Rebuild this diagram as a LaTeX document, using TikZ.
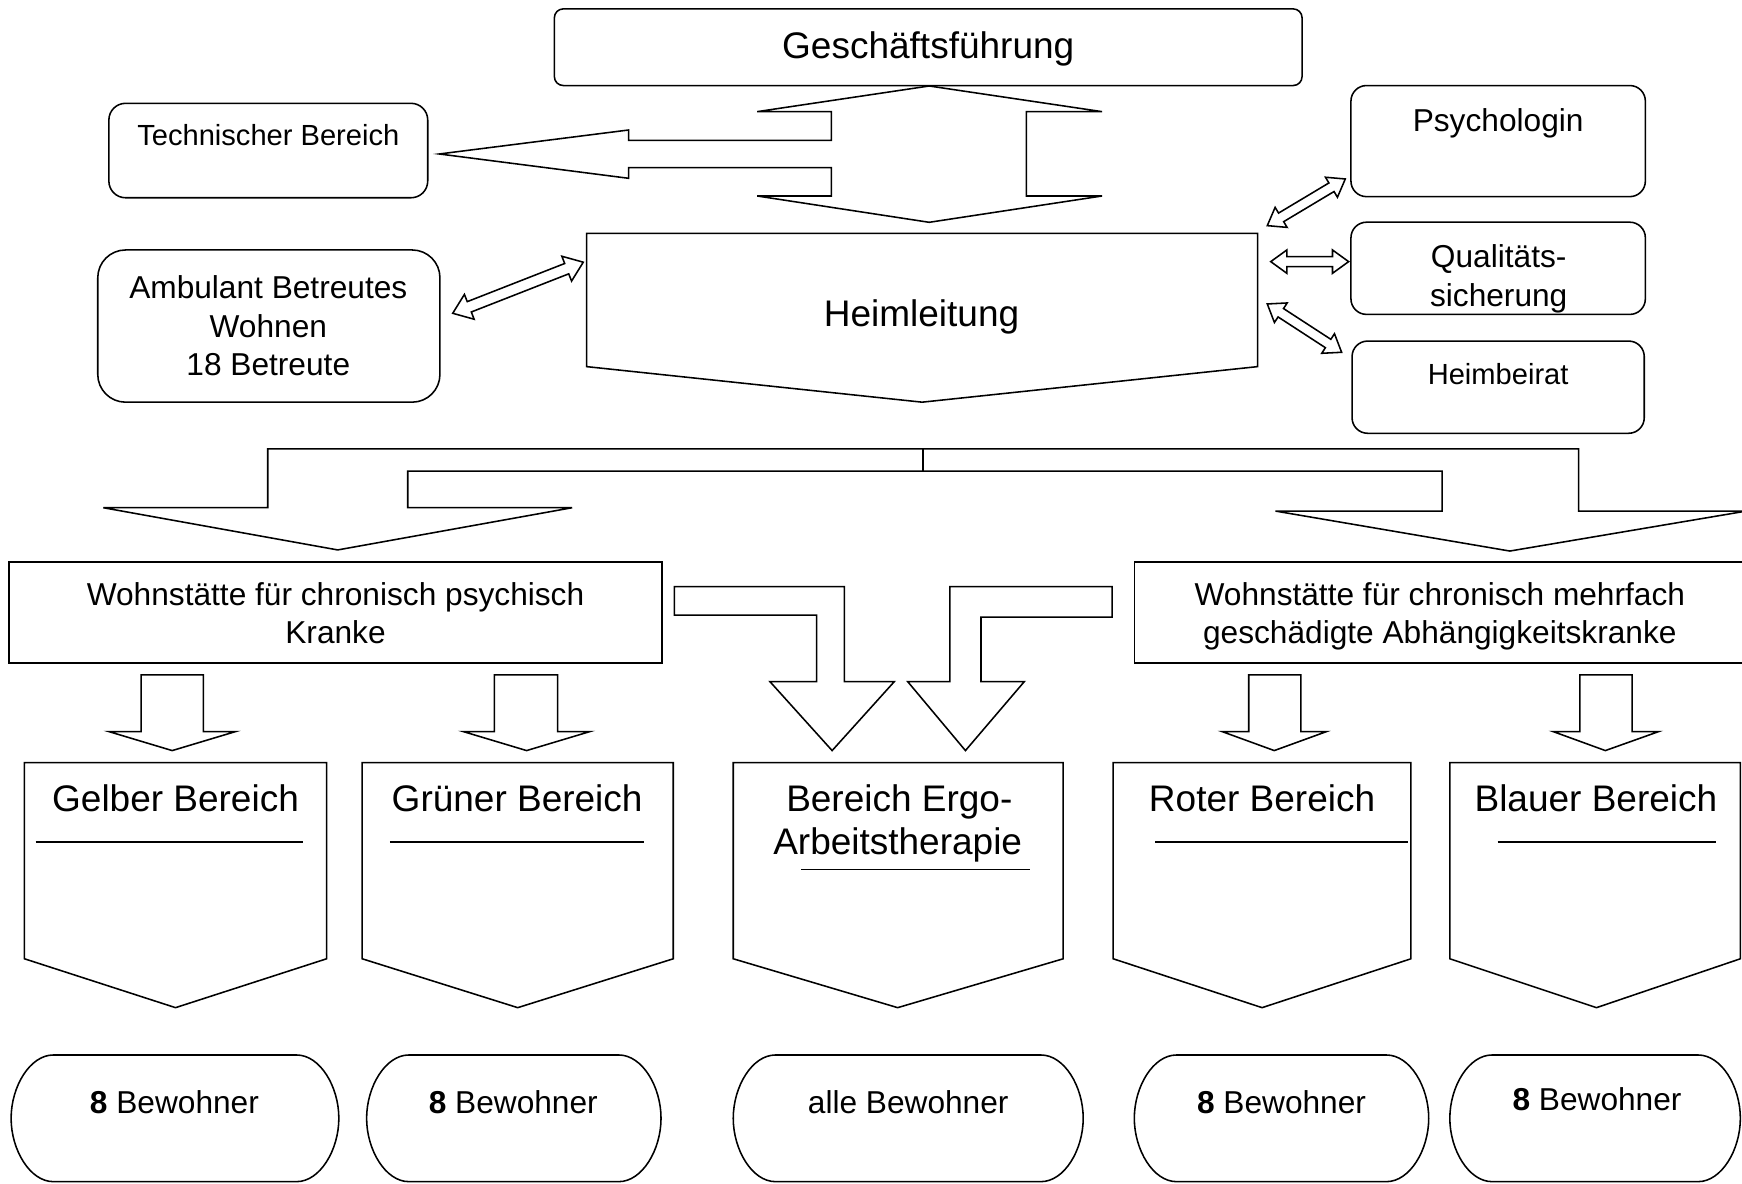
\documentclass[tikz,border=0pt]{standalone}
\usepackage{fontspec}
\setmainfont{Liberation Sans}
\usetikzlibrary{calc}
\tikzset{
  blk/.style={draw, line width=1.4pt, line join=miter, fill=white},
  uline/.style={draw, line width=1.4pt},
  txtL/.style={font=\fontsize{33.3}{40}\selectfont, anchor=base, inner sep=0pt},
  txtM/.style={font=\fontsize{28.5}{34.5}\selectfont, anchor=base, inner sep=0pt},
  txtS/.style={font=\fontsize{26.2}{31}\selectfont, anchor=base, inner sep=0pt},
}
% double block arrow: #1 start, #2 end, #3 shaft half width, #4 head half width, #5 head length
\newcommand\dblblockarrow[5]{%
  \draw[blk] (#1)
    -- ($(#1)!#5!(#2)!#4!90:(#2)$)
    -- ($(#1)!#5!(#2)!#3!90:(#2)$)
    -- ($(#2)!#5!(#1)!#3!-90:(#1)$)
    -- ($(#2)!#5!(#1)!#4!-90:(#1)$)
    -- (#2)
    -- ($(#2)!#5!(#1)!#4!90:(#1)$)
    -- ($(#2)!#5!(#1)!#3!90:(#1)$)
    -- ($(#1)!#5!(#2)!#3!-90:(#2)$)
    -- ($(#1)!#5!(#2)!#4!-90:(#2)$)
    -- cycle;}
% pill box: #1 left x, #2 right x
\newcommand\pillbox[2]{%
  \draw[blk] (#1+38,949.6) -- (#2-38,949.6)
    .. controls (#2-17,949.6) and (#2,978) .. (#2,1006.6)
    .. controls (#2,1035) and (#2-17,1063.6) .. (#2-38,1063.6)
    -- (#1+38,1063.6)
    .. controls (#1+17,1063.6) and (#1,1035) .. (#1,1006.6)
    .. controls (#1,978) and (#1+17,949.6) .. cycle;}
% pentagon box: #1 left x, #2 right x, #3 tip x
\newcommand\pentbox[3]{%
  \draw[blk] (#1,686.5) -- (#2,686.5) -- (#2,863) -- (#3,907) -- (#1,863) -- cycle;}
% small down arrow: shaft left, shaft right, head left, head right, tip x
\newcommand\smalldownarr[5]{%
  \draw[blk] (#1,607.5) -- (#2,607.5) -- (#2,658.5) -- (#4,658.5) -- (#5,675.6)
    -- (#3,658.5) -- (#1,658.5) -- cycle;}
\begin{document}
\begin{tikzpicture}[x=1pt,y=-1pt]
\clip (0,0) rectangle (1568,1065);
\fill[white] (0,0) rectangle (1568,1065);

% ---------- top boxes ----------
\draw[blk, rounded corners=8pt] (499,8) rectangle (1172,77);
\node[txtL] (gf) at (835.5,53) {Geschäftsführung};

\draw[blk, rounded corners=15pt] (98,93) rectangle (385,178);
\node[txtS] (tb) at (241.5,131) {Technischer Bereich};

\draw[blk, rounded corners=25pt] (88,225) rectangle (396,362);
\node[txtM] (abw1) at (241.5,269) {Ambulant Betreutes};
\node[txtM] (abw2) at (241.5,304) {Wohnen};
\node[txtM] (abw3) at (241.5,338) {18 Betreute};

\draw[blk, rounded corners=14pt] (1216,77) rectangle (1481,177);
\node[txtM] (psy) at (1348.5,118) {Psychologin};
\draw[blk, rounded corners=14pt] (1216,200) rectangle (1481,283);
\node[txtM] (qs1) at (1349,241) {Qualitäts-};
\node[txtM] (qs2) at (1349,276) {sicherung};
\draw[blk, rounded corners=14pt] (1217,307) rectangle (1480,390);
\node[txtS] (hb) at (1348.5,346) {Heimbeirat};

% ---------- Heimleitung ----------
\draw[blk] (528,210) -- (1132,210) -- (1132,330) -- (830,362) -- (528,330) -- cycle;
\node[txtL] (hl) at (829.5,294) {Heimleitung};

% ---------- big double arrow with branch ----------
\draw[blk] (836.4,77.4) -- (992,100.5) -- (923.9,100.5) -- (923.9,176.4) -- (992,176.4)
  -- (836.4,200.1) -- (681.5,176.4) -- (748.4,176.4) -- (748.4,150.9) -- (565.9,150.9)
  -- (565.9,160.5) -- (395.4,138.6) -- (565.9,117) -- (565.9,126.3) -- (748.4,126.3)
  -- (748.4,100.5) -- (681.5,100.5) -- cycle;

% ---------- small double arrows ----------
\coordinate (aA) at (407.5,282);
\coordinate (aB) at (525,236);
\dblblockarrow{aA}{aB}{5pt}{12pt}{16pt}
\coordinate (p1a) at (1140.7,203.1);
\coordinate (p1b) at (1210.9,161.1);
\dblblockarrow{p1a}{p1b}{4.5pt}{10.5pt}{14.5pt}
\coordinate (p2a) at (1143.8,235.5);
\coordinate (p2b) at (1213.9,235.5);
\dblblockarrow{p2a}{p2b}{4.5pt}{10.5pt}{14.5pt}
\coordinate (p3a) at (1140.7,273.6);
\coordinate (p3b) at (1207.6,317.1);
\dblblockarrow{p3a}{p3b}{4.5pt}{10.5pt}{14.5pt}

% ---------- distribution arrow ----------
\draw[blk] (241,404) -- (1421,404) -- (1421,460) -- (1572,460) -- (1359,496) -- (1148,460)
  -- (1298,460) -- (1298,424) -- (367,424) -- (367,457) -- (515,457) -- (304,495)
  -- (93,457) -- (241,457) -- cycle;
\draw[uline] (831,404) -- (831,424);

% ---------- Wohnstaetten ----------
\draw[blk] (8,506) rectangle (596,597);
\node[txtM] (ws1a) at (302,545) {Wohnstätte für chronisch psychisch};
\node[txtM] (ws1b) at (302,579) {Kranke};
\draw[blk] (1021,506) rectangle (1580,597);
\node[txtM] (ws2a) at (1296,545) {Wohnstätte für chronisch mehrfach};
\node[txtM] (ws2b) at (1296,579) {geschädigte Abhängigkeitskranke};

% ---------- bent arrows to Ergo ----------
\draw[blk] (607,528) -- (760,528) -- (760,613.5) -- (805,613.5) -- (749,675.6)
  -- (693,613.5) -- (735,613.5) -- (735,553.6) -- (607,553.6) -- cycle;
\draw[blk] (1001,528) -- (855,528) -- (855,613.5) -- (817,613.5) -- (869,675.6)
  -- (922,613.5) -- (883,613.5) -- (883,555.5) -- (1001,555.5) -- cycle;

% ---------- small down arrows ----------
\smalldownarr{127}{183}{98}{212}{155}
\smalldownarr{445}{502}{417}{531}{474}
\smalldownarr{1124}{1171}{1100}{1194}{1147}
\smalldownarr{1422}{1469}{1398}{1493}{1445}

% ---------- Bereiche ----------
\pentbox{22}{294}{158}
\node[txtL] (gelb) at (158,730) {Gelber Bereich};
\draw[uline] (32,758) -- (273,758);
\pentbox{326}{606}{466}
\node[txtL] (gruen) at (465.5,730) {Grüner Bereich};
\draw[uline] (351,758) -- (580,758);
\pentbox{660}{957}{808}
\node[txtL] (ergo1) at (809.5,730) {Bereich Ergo-};
\node[txtL] (ergo2) at (808,769) {Arbeitstherapie};
\draw[uline] (721,782.5) -- (927,782.5);
\pentbox{1002}{1270}{1136}
\node[txtL] (rot) at (1136,730) {Roter Bereich};
\draw[uline] (1040,758) -- (1267,758);
\pentbox{1305}{1566.5}{1437}
\node[txtL] (blau) at (1436.5,730) {Blauer Bereich};
\draw[uline] (1348,758) -- (1545,758);

% ---------- Bewohner ----------
\pillbox{10}{305}
\node[txtM] (bw1) at (157,1002) {\textbf{8} Bewohner};
\pillbox{330}{595}
\node[txtM] (bw2) at (462,1002) {\textbf{8} Bewohner};
\pillbox{660}{975}
\node[txtM] (bw3) at (817.5,1002) {alle Bewohner};
\pillbox{1021}{1286}
\node[txtM] (bw4) at (1153.5,1002) {\textbf{8} Bewohner};
\pillbox{1305}{1566.5}
\node[txtM] (bw5) at (1437.5,1000) {\textbf{8} Bewohner};
\end{tikzpicture}
\end{document}
